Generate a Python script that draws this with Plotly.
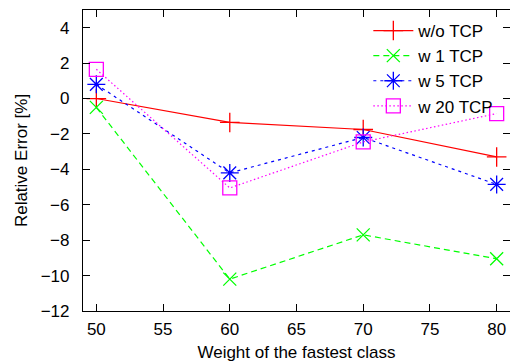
import plotly.graph_objects as go

weights = [50, 60, 70, 80]
wo_tcp = [0.0, -1.35, -1.75, -3.3]
w1_tcp = [-0.5, -10.2, -7.7, -9.05]
w5_tcp = [0.8, -4.2, -2.2, -4.85]
w20_tcp = [1.65, -5.05, -2.45, -0.85]

x_ticks = [50, 55, 60, 65, 70, 75, 80]
y_ticks = [-12, -10, -8, -6, -4, -2, 0, 2, 4]

series = [
    ("w/o TCP", wo_tcp, "#ff0000", "solid", "cross-thin-open", 14),
    ("w 1 TCP", w1_tcp, "#00ff00", "6px,4px", "x-thin-open", 13),
    ("w 5 TCP", w5_tcp, "#0000ff", "3px,4px", "asterisk-open", 15),
    ("w 20 TCP", w20_tcp, "#ff00ff", "1.5px,2.5px", "square-open", 14),
]

fig = go.Figure()
for name, vals, color, dash, sym, size in series:
    fig.add_trace(go.Scatter(
        x=weights, y=vals, name=name, mode="lines+markers",
        line=dict(color=color, width=1.2, dash=dash),
        marker=dict(symbol=sym, size=size, color=color,
                    line=dict(color=color, width=1.3)),
    ))

font = dict(family="Liberation Sans, Arial, sans-serif", size=17, color="black")

axis_common = dict(
    showline=True, linecolor="black", linewidth=1.2, mirror="allticks",
    ticks="inside", ticklen=7, tickwidth=1, tickcolor="black",
    showgrid=False, zeroline=False, tickfont=font,
)

fig.update_layout(
    width=510, height=364,
    margin=dict(l=83, r=0, t=10, b=53),
    paper_bgcolor="white", plot_bgcolor="white",
    font=font,
    showlegend=True,
    legend=dict(x=0.975, y=0.99, xanchor="right", yanchor="top",
                bgcolor="rgba(0,0,0,0)", font=font, tracegroupgap=0,
                itemwidth=40),
    xaxis=dict(range=[49, 81], tickvals=x_ticks,
               title=dict(text="Weight of the fastest class", font=font, standoff=8),
               ticklabelstandoff=2, **axis_common),
    yaxis=dict(range=[-12, 5], tickvals=y_ticks,
               title=dict(text="Relative Error [%]", font=font, standoff=8),
               ticklabelstandoff=9, **axis_common),
)

fig.write_html("out.html")
